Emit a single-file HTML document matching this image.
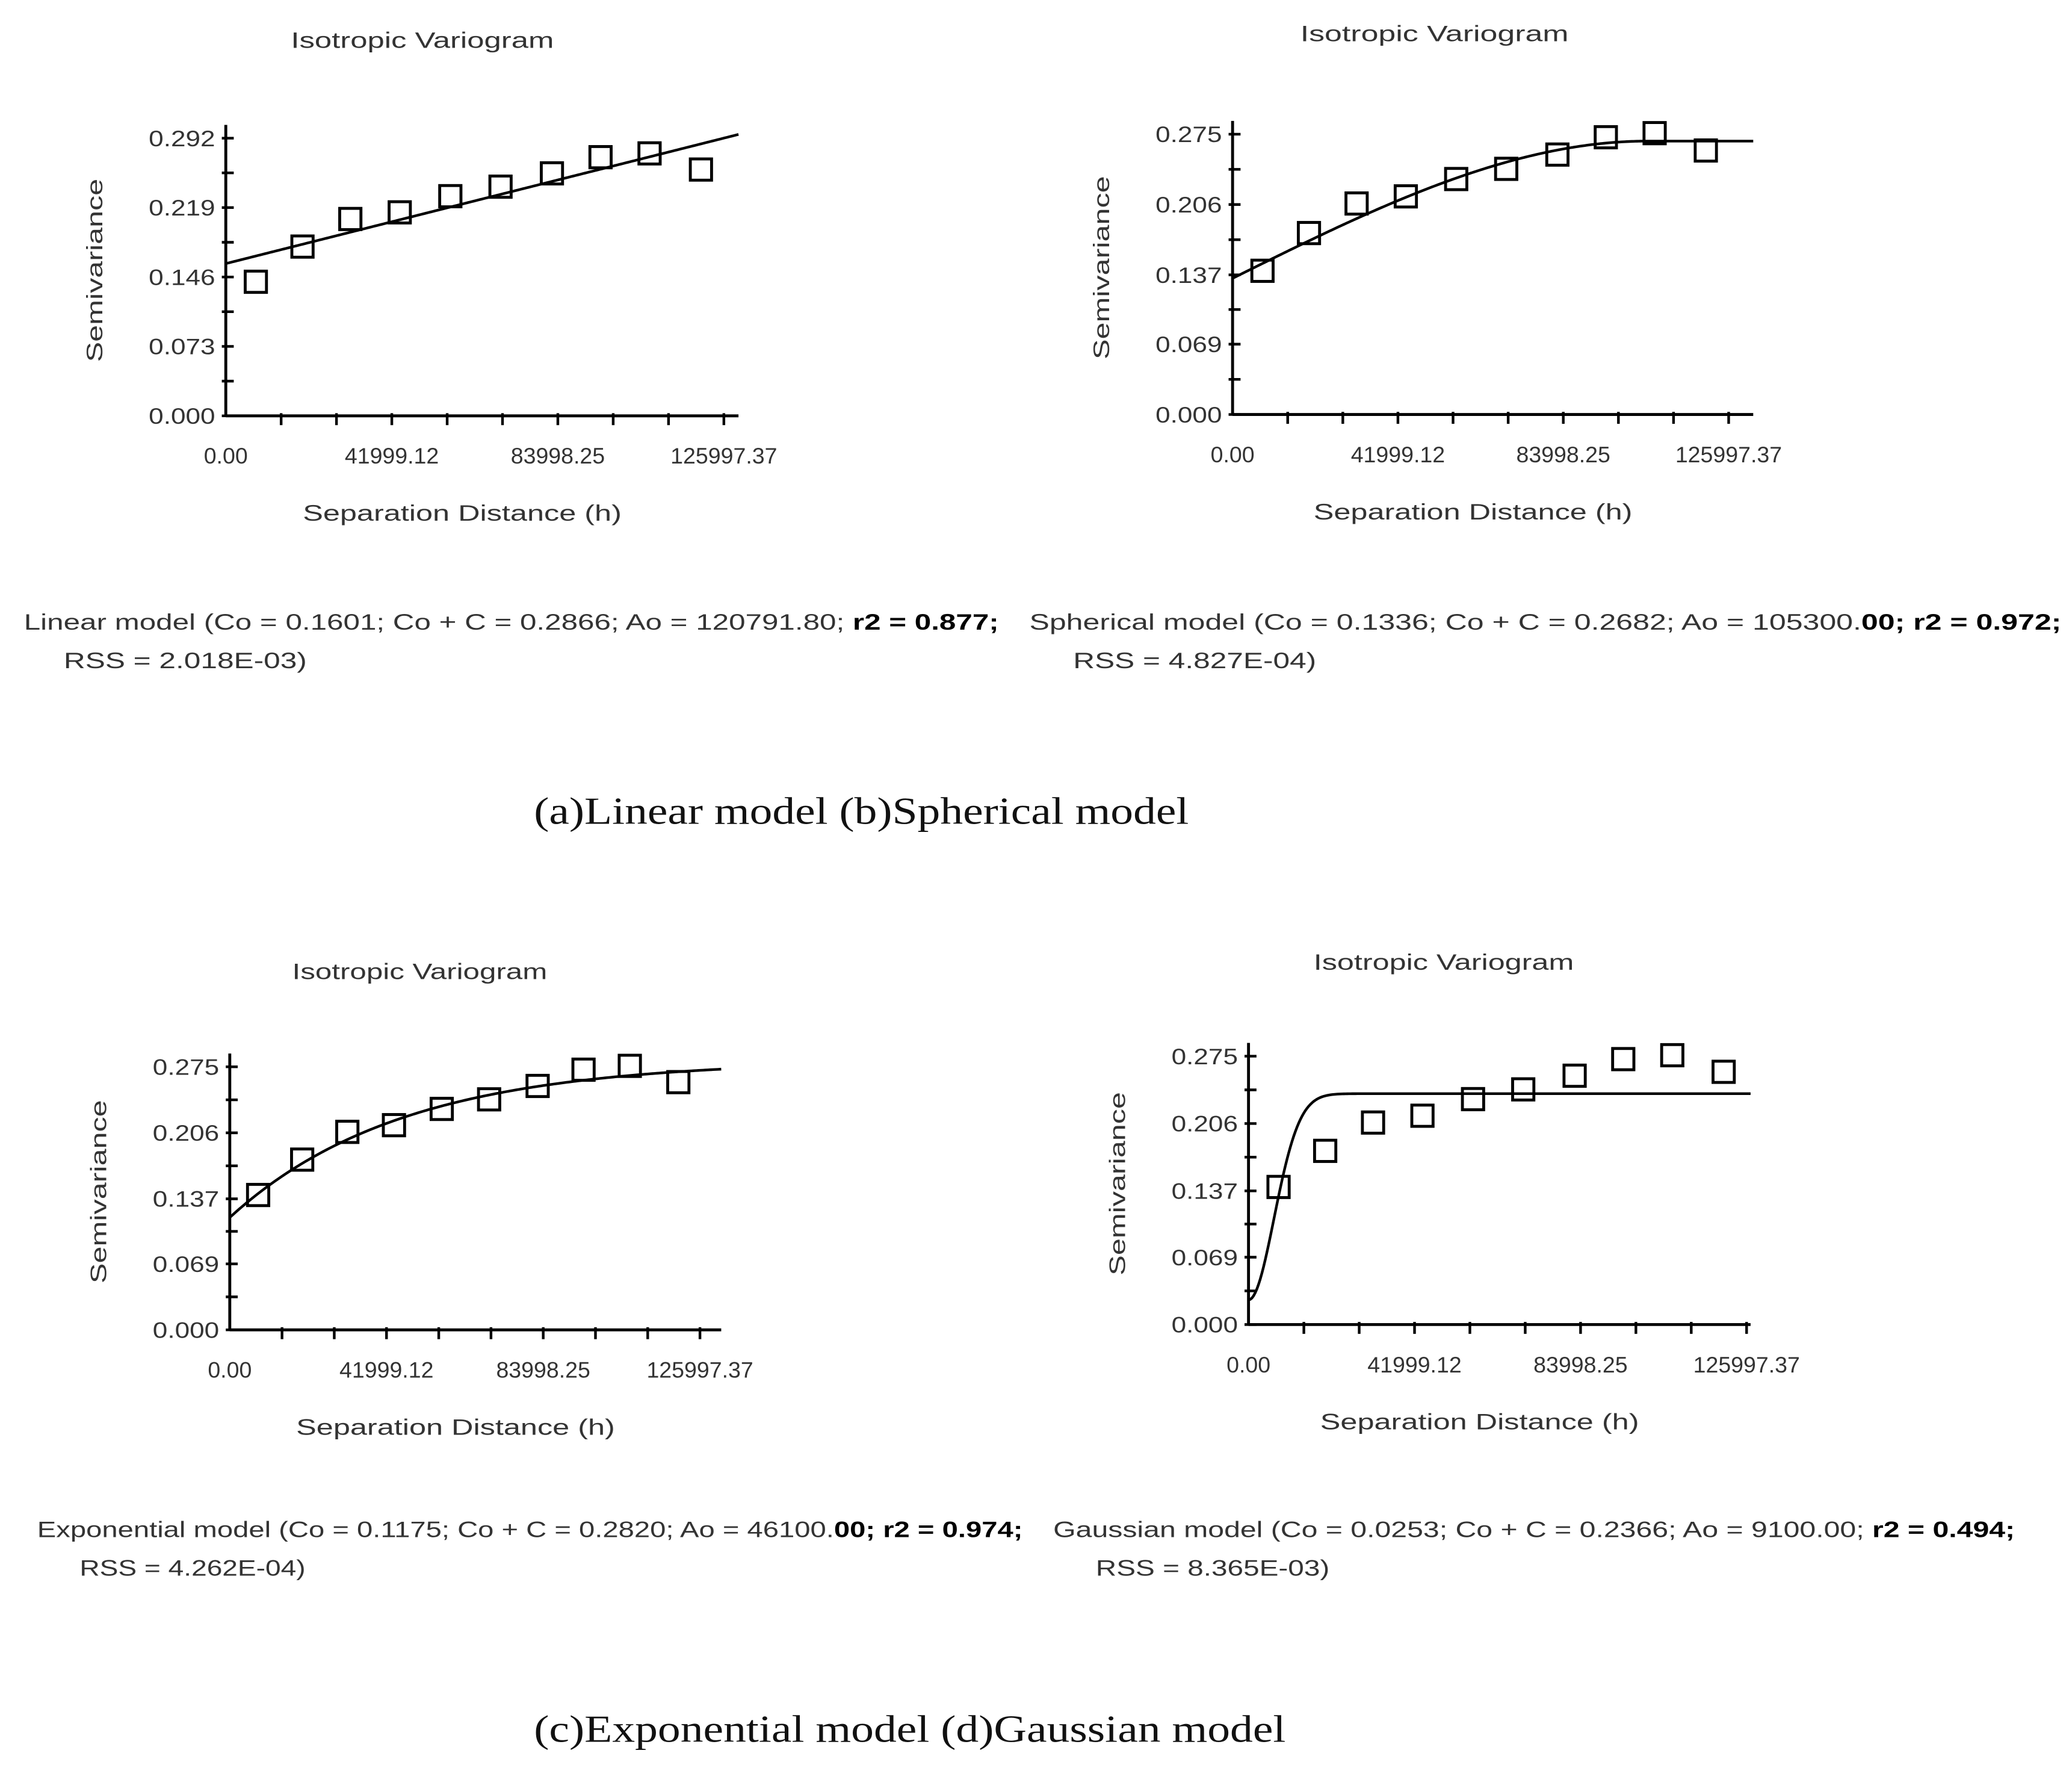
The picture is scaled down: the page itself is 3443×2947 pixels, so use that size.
<!DOCTYPE html>
<html><head><meta charset="utf-8">
<style>
html,body{margin:0;padding:0;background:#fff;}
svg{display:block;}
.t{font-family:"Liberation Sans",sans-serif;fill:#333;}
.cap{font-family:"Liberation Serif",serif;fill:#111;}
</style></head>
<body>
<svg id="fig" width="3443" height="2947" viewBox="0 0 1560 1335.3" preserveAspectRatio="none" xmlns="http://www.w3.org/2000/svg">
<text class="cap" x="402" y="620" font-size="29" textLength="493" lengthAdjust="spacingAndGlyphs">(a)Linear model (b)Spherical model</text>
<text class="cap" x="402" y="1311" font-size="29" textLength="566" lengthAdjust="spacingAndGlyphs">(c)Exponential model (d)Gaussian model</text>
</svg>
<script>
// Experimental semivariogram data (shared across the four panels)
const lagDistances = [7600, 19400, 31500, 44000, 56800, 69500, 82500, 94800, 107200, 120200];
const semivariances = [0.141, 0.178, 0.207, 0.214, 0.231, 0.241, 0.255, 0.272, 0.276, 0.259];
const xTickLabels = ["0.00", "41999.12", "83998.25", "125997.37"];
const xTickValues = [0, 41999.12, 83998.25, 125997.37];
const yTickLabelsA = ["0.000", "0.073", "0.146", "0.219", "0.292"];
const yTickValuesA = [0, 0.073, 0.146, 0.219, 0.292];
const yTickLabelsB = ["0.000", "0.069", "0.137", "0.206", "0.275"];
const yTickValuesB = [0, 0.069, 0.137, 0.206, 0.275];
// Model parameters: [Co, Co+C, Ao]
const linearParams = [0.1601, 0.2866, 120791.80];
const sphericalParams = [0.1336, 0.2682, 105300.00];
const exponentialParams = [0.1175, 0.2820, 46100.00];
const gaussianParams = [0.0253, 0.2366, 9100.00];

const NS = "http://www.w3.org/2000/svg";
const svg = document.getElementById("fig");
function mk(tag, attrs, parent) {
  const e = document.createElementNS(NS, tag);
  for (const k in attrs) e.setAttribute(k, attrs[k]);
  (parent || svg).appendChild(e);
  return e;
}
const models = {
  linear: (h, p) => p[0] + (p[1] - p[0]) * h / p[2],
  spherical: (h, p) => h >= p[2] ? p[1] : p[0] + (p[1] - p[0]) * (1.5 * h / p[2] - 0.5 * Math.pow(h / p[2], 3)),
  exponential: (h, p) => p[0] + (p[1] - p[0]) * (1 - Math.exp(-h / p[2])),
  gaussian: (h, p) => p[0] + (p[1] - p[0]) * (1 - Math.exp(-(h * h) / (p[2] * p[2])))
};
const panels = [
  {id:"a", ox:170, oy:313, xEnd:556, pxPer42k:125, topY:104, yMax:0.292, yl:yTickLabelsA, yv:yTickValuesA, model:"linear", p:linearParams,
   title:[318,36,198], cap1:["Linear model (Co = 0.1601; Co + C = 0.2866; Ao = 120791.80; ","r2 = 0.877;",18,474,734], cap2:["RSS = 2.018E-03)",48,503,183]},
  {id:"b", ox:928, oy:312, xEnd:1320, pxPer42k:124.5, topY:101, yMax:0.275, yl:yTickLabelsB, yv:yTickValuesB, model:"spherical", p:sphericalParams,
   title:[1080,31,202], cap1:["Spherical model (Co = 0.1336; Co + C = 0.2682; Ao = 105300.","00; r2 = 0.972;",775,474,777], cap2:["RSS = 4.827E-04)",808,503,183]},
  {id:"c", ox:173, oy:1001, xEnd:543, pxPer42k:118, topY:803, yMax:0.275, yl:yTickLabelsB, yv:yTickValuesB, model:"exponential", p:exponentialParams,
   title:[316,737,192], cap1:["Exponential model (Co = 0.1175; Co + C = 0.2820; Ao = 46100.","00; r2 = 0.974;",28,1157,742], cap2:["RSS = 4.262E-04)",60,1186,170]},
  {id:"d", ox:940, oy:997, xEnd:1318, pxPer42k:125, topY:795, yMax:0.275, yl:yTickLabelsB, yv:yTickValuesB, model:"gaussian", p:gaussianParams,
   title:[1087,730,196], cap1:["Gaussian model (Co = 0.0253; Co + C = 0.2366; Ao = 9100.00; ","r2 = 0.494;",793,1157,724], cap2:["RSS = 8.365E-03)",825,1186,176]}
];

panels.forEach(P => {
  const g = mk("g", {});
  
  
  const sx = h => P.ox + h * P.pxPer42k / 42000;
  const sy = v => P.oy - v / P.yMax * (P.oy - P.topY);

  const tt = mk("text", {class:"t", x:P.title[0], y:P.title[1], "font-size":17, "text-anchor":"middle", textLength:P.title[2], lengthAdjust:"spacingAndGlyphs"}, g);
  tt.textContent = "Isotropic Variogram";
  
  

  const ya = mk("line", {x1:P.ox, y1:P.topY - 10, x2:P.ox, y2:P.oy, stroke:"#000", "stroke-width":2.2}, g);
  
  
  const xa = mk("line", {x1:P.ox, y1:P.oy, x2:P.xEnd, y2:P.oy, stroke:"#000", "stroke-width":2.2}, g);
  
  

  // y ticks (major + minor)
  for (let i = 0; i < P.yv.length; i++) {
    const y = sy(P.yv[i]);
    mk("line", {x1:P.ox - 3, y1:y, x2:P.ox + 6, y2:y, stroke:"#000", "stroke-width":2}, g);
    if (i < P.yv.length - 1) {
      const ym = sy((P.yv[i] + P.yv[i + 1]) / 2);
      mk("line", {x1:P.ox - 3, y1:ym, x2:P.ox + 6, y2:ym, stroke:"#000", "stroke-width":2}, g);
    }
    const lb = mk("text", {class:"t", x:P.ox - 8, y:y + 6, "font-size":17, "text-anchor":"end", textLength:50, lengthAdjust:"spacingAndGlyphs"}, g);
    lb.textContent = P.yl[i];
    
    
  }
  // x ticks every 14000
  for (let k = 1; k <= 9; k++) {
    const x = sx(k * 14000);
    mk("line", {x1:x, y1:P.oy - 2, x2:x, y2:P.oy + 7, stroke:"#000", "stroke-width":2}, g);
  }
  for (let i = 0; i < xTickValues.length; i++) {
    const lb = mk("text", {class:"t", x:sx(xTickValues[i]), y:P.oy + 36, "font-size":17, "text-anchor":"middle"}, g);
    lb.textContent = xTickLabels[i];
    
    
  }
  const xt = mk("text", {class:"t", x:(P.ox + P.xEnd) / 2 - 15, y:P.oy + 79, "font-size":17, "text-anchor":"middle", textLength:240, lengthAdjust:"spacingAndGlyphs"}, g);
  xt.textContent = "Separation Distance (h)";
  
  
  const cy = (P.oy + P.topY) / 2 - 5;
  const yt = mk("text", {class:"t", x:P.ox - 93, y:cy, "font-size":17, "text-anchor":"middle", transform:`rotate(-90 ${P.ox - 93} ${cy})`, textLength:138, lengthAdjust:"spacingAndGlyphs"}, g);
  yt.textContent = "Semivariance";
  
  

  // model curve
  const hMax = (P.xEnd - P.ox) / P.pxPer42k * 42000;
  let d = "";
  for (let i = 0; i <= 300; i++) {
    const h = hMax * i / 300;
    d += (i ? "L" : "M") + sx(h).toFixed(2) + "," + sy(models[P.model](h, P.p)).toFixed(2);
  }
  const ml = mk("path", {d:d, fill:"none", stroke:"#000", "stroke-width":2}, g);
  
  

  // experimental points
  for (let i = 0; i < lagDistances.length; i++) {
    const x = sx(lagDistances[i]), y = sy(semivariances[i]);
    const r = mk("rect", {x:x - 8, y:y - 8, width:16, height:16, fill:"none", stroke:"#000", "stroke-width":2.2}, g);
    
    
  }

  // model caption
  const c1 = mk("text", {class:"t", x:P.cap1[2], y:P.cap1[3], "font-size":17, textLength:P.cap1[4], lengthAdjust:"spacingAndGlyphs"}, g);
  
  
  const s1 = mk("tspan", {}, c1); s1.textContent = P.cap1[0];
  const s2 = mk("tspan", {"font-weight":"bold", fill:"#000"}, c1); s2.textContent = P.cap1[1];
  const c2 = mk("text", {class:"t", x:P.cap2[1], y:P.cap2[2], "font-size":17, textLength:P.cap2[3], lengthAdjust:"spacingAndGlyphs"}, g);
  c2.textContent = P.cap2[0];
  
  
});
</script>
</body></html>
